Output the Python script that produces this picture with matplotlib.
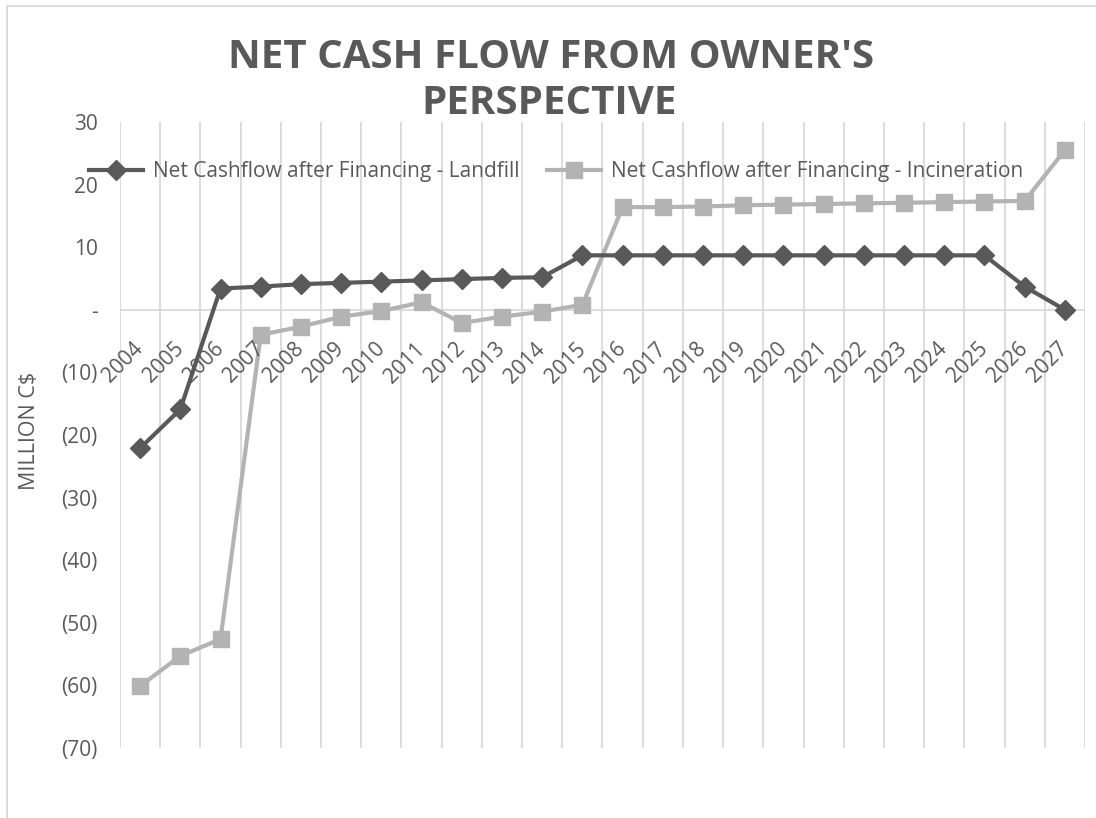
import numpy as np
import matplotlib.pyplot as plt
from matplotlib.lines import Line2D
from matplotlib.ticker import FixedLocator, FuncFormatter

plt.rcParams['font.family'] = ['Open Sans', 'DejaVu Sans']

years = [str(y) for y in range(2004, 2028)]
landfill = [-22.1, -15.9, 3.4, 3.7, 4.1, 4.3, 4.5, 4.7, 4.9, 5.1, 5.2, 8.7,
            8.7, 8.7, 8.7, 8.7, 8.7, 8.7, 8.7, 8.7, 8.7, 8.7, 3.7, 0.0]
incineration = [-60.1, -55.3, -52.6, -4.0, -2.7, -1.1, -0.2, 1.2, -2.1, -1.1, -0.3, 0.8,
                16.4, 16.4, 16.5, 16.7, 16.8, 16.9, 17.0, 17.1, 17.2, 17.3, 17.4, 25.5]

dark = '#595959'
light = '#b3b3b3'
grid = '#d9d9d9'

fig = plt.figure(figsize=(10.96, 8.18), dpi=100)
ax = fig.add_axes([120 / 1096, 1 - 748 / 818, 965 / 1096, 626 / 818])

x = np.arange(len(years))
ax.plot(x, landfill, color=dark, lw=3, marker='D', ms=10.5, mec=dark, mfc=dark,
        label='Net Cashflow after Financing - Landfill', zorder=4)
ax.plot(x, incineration, color=light, lw=3, marker='s', ms=12, mec=light, mfc=light,
        label='Net Cashflow after Financing - Incineration', zorder=3)

ax.set_xlim(-0.5, len(years) - 0.5)
ax.set_ylim(-70, 30)

# vertical gridlines between categories, horizontal line at zero
for b in np.arange(-0.5, len(years), 1.0):
    ax.axvline(b, color=grid, lw=1.3, zorder=1)
ax.axhline(0, color=grid, lw=1.3, zorder=1)

for s in ax.spines.values():
    s.set_visible(False)

ax.set_xticks([])
ax.yaxis.set_major_locator(FixedLocator(np.arange(-70, 31, 10)))
ax.yaxis.set_major_formatter(FuncFormatter(
    lambda v, p: '-' if v == 0 else (f'({abs(v):.0f})' if v < 0 else f'{v:.0f}')))
ax.tick_params(axis='y', length=0, pad=16, labelsize=15, labelcolor=dark)

# year labels hang just under the zero line
for i, yr in enumerate(years):
    ax.annotate(yr, xy=(i, 0), xytext=(0, -26), textcoords='offset points',
                ha='right', va='center', rotation=45, rotation_mode='anchor',
                fontsize=15, color=dark)

ax.set_ylabel('MILLION C$', fontsize=15.5, color=dark)
ax.yaxis.set_label_coords(-80 / 965, 0.507)

fig.text(551 / 1096, 1 - 57 / 818, "NET CASH FLOW FROM OWNER'S", ha='center', va='center',
         fontsize=29, fontweight='bold', color=dark)
fig.text(549 / 1096, 1 - 104 / 818, 'PERSPECTIVE', ha='center', va='center',
         fontsize=29, fontweight='bold', color=dark)

ax.legend(loc='center', bbox_to_anchor=(556 / 1096, 1 - 172 / 818),
          bbox_transform=fig.transFigure, ncol=2, frameon=False,
          fontsize=15, labelcolor=dark, handlelength=2.6, columnspacing=1.3,
          handletextpad=0.5)

# chart frame
fig.add_artist(Line2D([7 / 1096, 7 / 1096], [0, 1 - 6 / 818], color=grid, lw=1.3))
fig.add_artist(Line2D([7 / 1096, 1], [1 - 6 / 818, 1 - 6 / 818], color=grid, lw=1.3))

fig.savefig('out.png', dpi=100)
